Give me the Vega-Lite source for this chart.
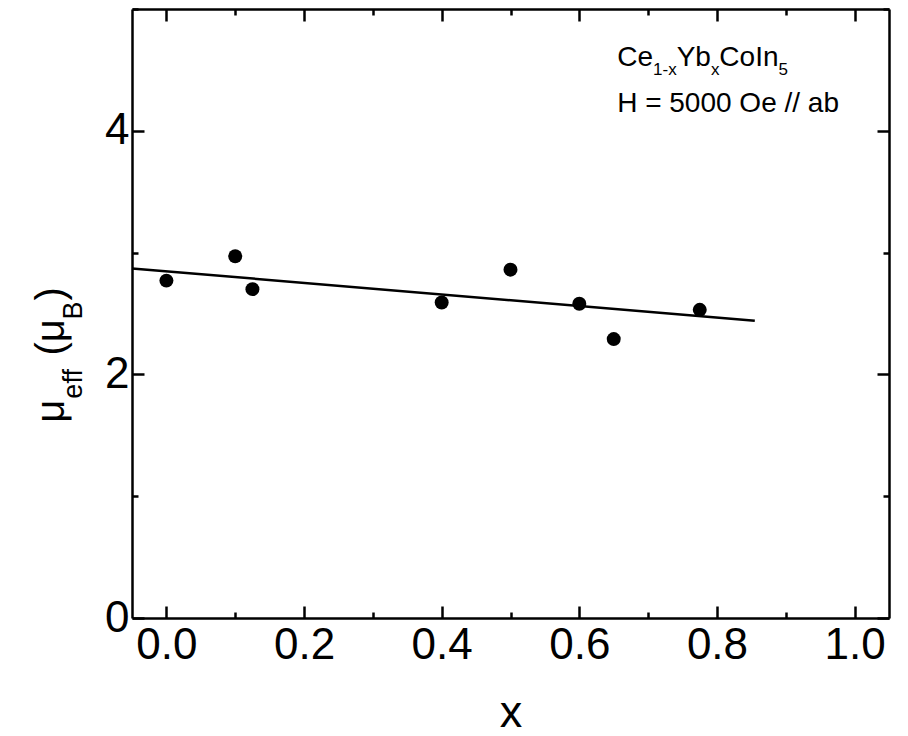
{
  "$schema": "https://vega.github.io/schema/vega-lite/v6.json",
  "width": 757,
  "height": 609,
  "autosize": {"type": "none"},
  "padding": {"left": 132, "top": 9, "right": 19, "bottom": 118},
  "background": "white",
  "config": {
    "view": {"stroke": null},
    "font": "Liberation Sans",
    "axis": {
      "grid": false,
      "domainColor": "black",
      "domainWidth": 2.5,
      "tickColor": "black",
      "tickWidth": 2.5,
      "labelFont": "Liberation Sans",
      "labelFontSize": 44,
      "labelColor": "black",
      "titleFont": "Liberation Sans",
      "titleFontWeight": "normal",
      "titleColor": "black"
    }
  },
  "datasets": {
    "points": [
      {"x": 0.0, "mu": 2.77},
      {"x": 0.1, "mu": 2.97},
      {"x": 0.125, "mu": 2.70},
      {"x": 0.4, "mu": 2.59},
      {"x": 0.5, "mu": 2.86},
      {"x": 0.6, "mu": 2.58},
      {"x": 0.65, "mu": 2.29},
      {"x": 0.775, "mu": 2.53}
    ],
    "fit": [
      {"x": -0.05, "mu": 2.87},
      {"x": 0.855, "mu": 2.44}
    ],
    "one": [{}]
  },
  "resolve": {"axis": {"x": "independent", "y": "independent"}},
  "layer": [
    {
      "data": {"name": "points"},
      "mark": {"type": "point", "filled": true, "size": 195, "color": "black", "opacity": 1},
      "encoding": {
        "x": {
          "field": "x", "type": "quantitative",
          "scale": {"domain": [-0.05, 1.05], "nice": false, "zero": false},
          "axis": {
            "orient": "bottom",
            "values": [0, 0.1, 0.2, 0.3, 0.4, 0.5, 0.6, 0.7, 0.8, 0.9, 1.0],
            "labelExpr": "round(datum.value*10)%2==0 ? format(datum.value,'.1f') : ''",
            "tickSize": {"condition": {"test": "round(datum.value*10)%2==0", "value": -12}, "value": -6},
            "labelPadding": 17,
            "labelBaseline": "top",
            "labelFlush": false,
            "labelOverlap": false,
            "title": "x",
            "titleFontSize": 45,
            "titleBaseline": "bottom",
            "titleY": 117
          }
        },
        "y": {
          "field": "mu", "type": "quantitative",
          "scale": {"domain": [0, 5], "nice": false, "zero": false},
          "axis": {
            "orient": "left",
            "values": [0, 1, 2, 3, 4, 5],
            "labelExpr": "datum.value%2==0 ? format(datum.value,'d') : ''",
            "tickSize": {"condition": {"test": "datum.value%2==0", "value": -12}, "value": -6},
            "labelPadding": 15,
            "labelFlush": false,
            "labelOverlap": false,
            "title": null
          }
        }
      }
    },
    {
      "data": {"name": "fit"},
      "mark": {"type": "line", "color": "black", "strokeWidth": 2.5},
      "encoding": {
        "x": {
          "field": "x", "type": "quantitative",
          "axis": {
            "orient": "top",
            "values": [0, 0.1, 0.2, 0.3, 0.4, 0.5, 0.6, 0.7, 0.8, 0.9, 1.0],
            "labels": false,
            "tickSize": {"condition": {"test": "round(datum.value*10)%2==0", "value": -12}, "value": -6},
            "title": null
          }
        },
        "y": {
          "field": "mu", "type": "quantitative",
          "axis": {
            "orient": "right",
            "values": [0, 1, 2, 3, 4, 5],
            "labels": false,
            "tickSize": {"condition": {"test": "datum.value%2==0", "value": -12}, "value": -6},
            "title": null
          }
        }
      }
    },
    {
      "data": {"name": "one"},
      "mark": {"type": "text", "text": "μ", "fontSize": 40, "angle": 270, "align": "left", "baseline": "alphabetic", "color": "black"},
      "encoding": {
        "x": {"datum": -0.1494, "type": "quantitative", "axis": null},
        "y": {"datum": 1.604, "type": "quantitative", "axis": null}
      }
    },
    {
      "data": {"name": "one"},
      "mark": {"type": "text", "text": "eff", "fontSize": 27, "angle": 270, "align": "left", "baseline": "alphabetic", "color": "black"},
      "encoding": {
        "x": {"datum": -0.1232, "type": "quantitative", "axis": null},
        "y": {"datum": 1.801, "type": "quantitative", "axis": null}
      }
    },
    {
      "data": {"name": "one"},
      "mark": {"type": "text", "text": "(μ", "fontSize": 40, "angle": 270, "align": "left", "baseline": "alphabetic", "color": "black"},
      "encoding": {
        "x": {"datum": -0.1494, "type": "quantitative", "axis": null},
        "y": {"datum": 2.155, "type": "quantitative", "axis": null}
      }
    },
    {
      "data": {"name": "one"},
      "mark": {"type": "text", "text": "B", "fontSize": 27, "angle": 270, "align": "left", "baseline": "alphabetic", "color": "black"},
      "encoding": {
        "x": {"datum": -0.1232, "type": "quantitative", "axis": null},
        "y": {"datum": 2.451, "type": "quantitative", "axis": null}
      }
    },
    {
      "data": {"name": "one"},
      "mark": {"type": "text", "text": ")", "fontSize": 40, "angle": 270, "align": "left", "baseline": "alphabetic", "color": "black"},
      "encoding": {
        "x": {"datum": -0.1494, "type": "quantitative", "axis": null},
        "y": {"datum": 2.607, "type": "quantitative", "axis": null}
      }
    },
    {
      "data": {"name": "one"},
      "mark": {"type": "text", "text": "Ce", "fontSize": 28, "align": "left", "baseline": "alphabetic", "color": "black"},
      "encoding": {
        "x": {"datum": 0.655, "type": "quantitative", "axis": null},
        "y": {"datum": 4.531, "type": "quantitative", "axis": null}
      }
    },
    {
      "data": {"name": "one"},
      "mark": {"type": "text", "text": "1-x", "fontSize": 17, "align": "left", "baseline": "alphabetic", "color": "black"},
      "encoding": {
        "x": {"datum": 0.7071, "type": "quantitative", "axis": null},
        "y": {"datum": 4.457, "type": "quantitative", "axis": null}
      }
    },
    {
      "data": {"name": "one"},
      "mark": {"type": "text", "text": "Yb", "fontSize": 28, "align": "left", "baseline": "alphabetic", "color": "black"},
      "encoding": {
        "x": {"datum": 0.7414, "type": "quantitative", "axis": null},
        "y": {"datum": 4.531, "type": "quantitative", "axis": null}
      }
    },
    {
      "data": {"name": "one"},
      "mark": {"type": "text", "text": "x", "fontSize": 17, "align": "left", "baseline": "alphabetic", "color": "black"},
      "encoding": {
        "x": {"datum": 0.7912, "type": "quantitative", "axis": null},
        "y": {"datum": 4.457, "type": "quantitative", "axis": null}
      }
    },
    {
      "data": {"name": "one"},
      "mark": {"type": "text", "text": "CoIn", "fontSize": 28, "align": "left", "baseline": "alphabetic", "color": "black"},
      "encoding": {
        "x": {"datum": 0.8035, "type": "quantitative", "axis": null},
        "y": {"datum": 4.531, "type": "quantitative", "axis": null}
      }
    },
    {
      "data": {"name": "one"},
      "mark": {"type": "text", "text": "5", "fontSize": 17, "align": "left", "baseline": "alphabetic", "color": "black"},
      "encoding": {
        "x": {"datum": 0.8895, "type": "quantitative", "axis": null},
        "y": {"datum": 4.457, "type": "quantitative", "axis": null}
      }
    },
    {
      "data": {"name": "one"},
      "mark": {"type": "text", "text": "H = 5000 Oe // ab", "fontSize": 28, "align": "left", "baseline": "alphabetic", "color": "black"},
      "encoding": {
        "x": {"datum": 0.655, "type": "quantitative", "axis": null},
        "y": {"datum": 4.153, "type": "quantitative", "axis": null}
      }
    }
  ]
}
